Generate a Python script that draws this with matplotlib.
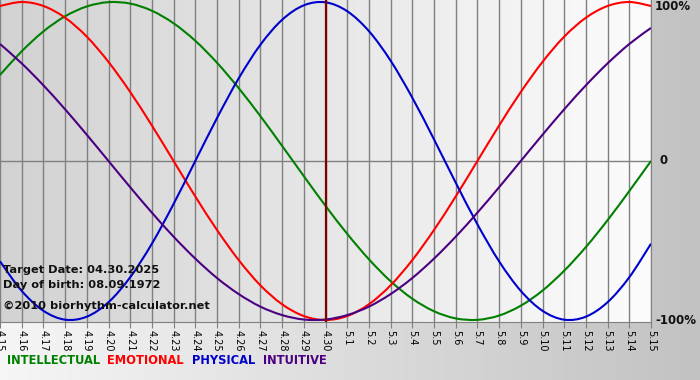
import matplotlib
matplotlib.use("Agg")
import matplotlib.pyplot as plt
from matplotlib.path import Path
from matplotlib.patches import PathPatch
import numpy as np

# days shown (4.15 .. 5.15)
days = ["4.15", "4.16", "4.17", "4.18", "4.19", "4.20", "4.21", "4.22", "4.23", "4.24",
        "4.25", "4.26", "4.27", "4.28", "4.29", "4.30", "5.1", "5.2", "5.3", "5.4",
        "5.5", "5.6", "5.7", "5.8", "5.9", "5.10", "5.11", "5.12", "5.13", "5.14", "5.15"]
target_idx = 15

intellectual = [0.541, 0.690, 0.815, 0.910, 0.972, 0.999, 0.990, 0.945, 0.866, 0.756,
                0.618, 0.458, 0.282, 0.095, -0.095, -0.282, -0.458, -0.618, -0.756, -0.866,
                -0.945, -0.990, -0.999, -0.972, -0.910, -0.815, -0.690, -0.541, -0.372, -0.189, 0.000]
emotional = [0.975, 1.000, 0.975, 0.901, 0.782, 0.623, 0.434, 0.223, 0.000, -0.223,
             -0.434, -0.623, -0.782, -0.901, -0.975, -1.000, -0.975, -0.901, -0.782, -0.623,
             -0.434, -0.223, 0.000, 0.223, 0.434, 0.623, 0.782, 0.901, 0.975, 1.000, 0.975]
physical = [-0.631, -0.817, -0.942, -0.998, -0.979, -0.888, -0.731, -0.520, -0.270, 0.000,
            0.270, 0.520, 0.731, 0.888, 0.979, 0.998, 0.942, 0.817, 0.631, 0.398,
            0.136, -0.136, -0.398, -0.631, -0.817, -0.942, -0.998, -0.979, -0.888, -0.731, -0.520]
intuitive = [0.736, 0.614, 0.476, 0.325, 0.165, 0.000, -0.165, -0.325, -0.476, -0.614,
             -0.736, -0.837, -0.916, -0.969, -0.997, -0.997, -0.969, -0.916, -0.837, -0.736,
             -0.614, -0.476, -0.325, -0.165, 0.000, 0.165, 0.325, 0.476, 0.614, 0.736, 0.837]

series = [("INTELLECTUAL", intellectual, "#008000"),
          ("EMOTIONAL", emotional, "#ff0000"),
          ("PHYSICAL", physical, "#0000cc"),
          ("INTUITIVE", intuitive, "#4b0082")]
legend_x = [7, 107, 192, 263]


def smooth_path(xs, ys):
    # Catmull-Rom style cubic bezier through the points (smooth line style)
    xs = np.asarray(xs, float)
    ys = np.asarray(ys, float)
    verts = [(xs[0], ys[0])]
    codes = [Path.MOVETO]
    n = len(xs)
    for i in range(n - 1):
        i0 = max(i - 1, 0)
        i3 = min(i + 2, n - 1)
        c1 = (xs[i] + (xs[i + 1] - xs[i0]) / 6, ys[i] + (ys[i + 1] - ys[i0]) / 6)
        c2 = (xs[i + 1] - (xs[i3] - xs[i]) / 6, ys[i + 1] - (ys[i3] - ys[i]) / 6)
        verts += [c1, c2, (xs[i + 1], ys[i + 1])]
        codes += [Path.CURVE4] * 3
    return Path(verts, codes)


W, H = 700, 380
fig = plt.figure(figsize=(W / 100, H / 100), dpi=100)

# page background gradient
bg = fig.add_axes([0, 0, 1, 1])
grad = np.linspace(0, 1, 256).reshape(1, -1)
bg.imshow(grad, aspect="auto", cmap=matplotlib.colors.LinearSegmentedColormap.from_list(
    "bgp", ["#f6f6f6", "#c2c2c2"]), extent=[0, 1, 0, 1])
bg.axis("off")

x = np.arange(len(days))
pad = 2 / 159
ax = fig.add_axes([0, (H - 322) / H, 651 / W, 322 / H])
ax.imshow(grad, aspect="auto", cmap=matplotlib.colors.LinearSegmentedColormap.from_list(
    "bga", ["#d2d2d2", "#fcfcfc"]), extent=[0, len(days) - 1, -1 - pad, 1 + pad], zorder=0)
ax.set_xlim(0, len(days) - 1)
ax.set_ylim(-1 - pad, 1 + pad)

for i in x:
    ax.axvline(i, color="#808080", lw=1.0, zorder=1)
ax.axhline(0, color="#808080", lw=1.0, zorder=1)

for name, vals, col in series:
    ax.add_patch(PathPatch(smooth_path(x, vals), fill=False, edgecolor=col, lw=1.5,
                           zorder=3, clip_on=True))

# marker for the target date, on top of the curves
ax.axvline(target_idx, color="#800000", lw=1.6, zorder=4)

ax.set_xticks(x)
ax.set_xticklabels(days, rotation=-90, fontsize=7, fontfamily="DejaVu Sans")
ax.tick_params(axis="x", length=4, color="#808080", pad=2)
ax.set_yticks([])
for s in ["top", "left"]:
    ax.spines[s].set_visible(False)
for s in ["right", "bottom"]:
    ax.spines[s].set_color("#808080")

for val, lab, dx, dy in [(1, "100%", 4, -5), (0, "0", 9, 0), (-1, "-100%", 4, 0)]:
    ax.annotate(lab, xy=(1, val), xycoords=("axes fraction", "data"),
                xytext=(dx, dy), textcoords="offset pixels",
                ha="left", va="center", fontsize=8.5, fontweight="bold", color="#111111")

info = ["Target Date: 04.30.2025", "Day of birth: 08.09.1972", "\u00a92010 biorhythm-calculator.net"]
for t, yy in zip(info, [270, 285, 306]):
    fig.text(3 / W, 1 - yy / H, t, ha="left", va="center", fontsize=8.2,
             fontweight="bold", color="#111111")

for (name, vals, col), lx in zip(series, legend_x):
    fig.text(lx / W, 1 - 361 / H, name, ha="left", va="center", fontsize=8.3,
             fontweight="bold", color=col)

fig.savefig("out.png", dpi=100)
